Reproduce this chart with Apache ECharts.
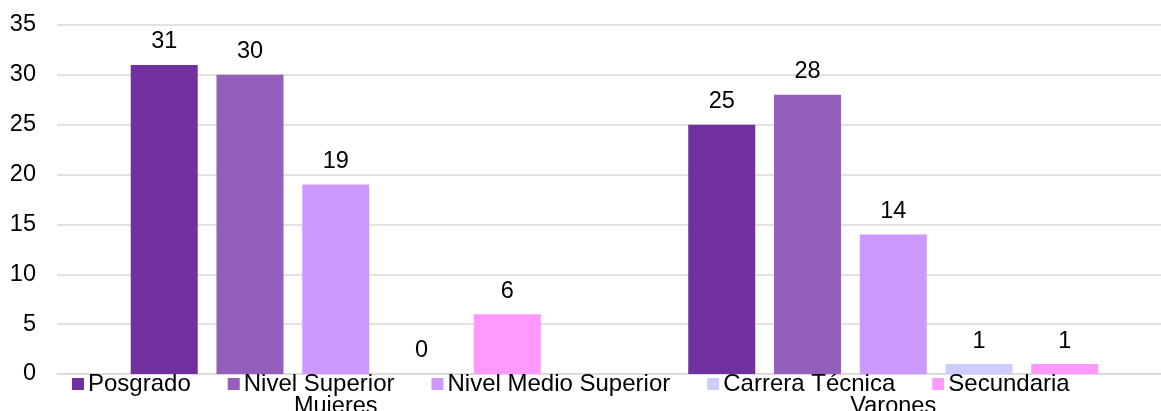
<!DOCTYPE html>
<html><head><meta charset="utf-8">
<script src="https://cdn.jsdelivr.net/npm/echarts@6/dist/echarts.min.js"></script>
<style>html,body{margin:0;padding:0;background:#fff}#c{width:1161px;height:411px}</style>
</head><body><div id="c"></div>
<script>
const categories = ['Mujeres', 'Varones'];
const seriesNames = ['Posgrado', 'Nivel Superior', 'Nivel Medio Superior', 'Carrera Técnica', 'Secundaria'];
const posgrado = [31, 25];
const nivelSuperior = [30, 28];
const nivelMedioSuperior = [19, 14];
const carreraTecnica = [0, 1];
const secundaria = [6, 1];
const yTicks = [0, 5, 10, 15, 20, 25, 30, 35];

const colors = ['#7030A0', '#935FBB', '#CC99FF', '#CCCCFF', '#FF99FF'];
const values = [posgrado, nivelSuperior, nivelMedioSuperior, carreraTecnica, secundaria];
const font = 'Liberation Sans, Arial, sans-serif';
const fs = 23.5;

const chart = echarts.init(document.getElementById('c'));
chart.setOption({
  animation: false,
  textStyle: { fontFamily: font },
  grid: { left: 57, width: 1115, top: 25, bottom: 37, containLabel: false, outerBoundsMode: 'none' },
  legend: {
    data: seriesNames,
    left: 67, top: 367,
    itemWidth: 12, itemHeight: 12, itemGap: 37,
    icon: 'rect',
    textStyle: { fontSize: 24, color: '#000', fontFamily: font, padding: [0, 0, 0, -1] }
  },
  xAxis: {
    type: 'category', data: categories,
    axisLine: { lineStyle: { color: '#D9D9D9', width: 1.5 } },
    axisTick: { show: false },
    axisLabel: { fontSize: fs, color: '#000', margin: 21, fontFamily: font }
  },
  yAxis: {
    type: 'value', min: yTicks[0], max: yTicks[yTicks.length - 1], interval: 5,
    axisLine: { show: false }, axisTick: { show: false },
    splitLine: { lineStyle: { color: '#D9D9D9', width: 1.5 } },
    axisLabel: { fontSize: fs, color: '#000', margin: 21, fontFamily: font }
  },
  series: seriesNames.map((n, i) => ({
    name: n, type: 'bar', data: values[i],
    barWidth: 67, barGap: '28%',
    itemStyle: { color: colors[i] },
    label: { show: true, position: 'top', distance: 11, fontSize: fs, color: '#000', fontFamily: font }
  }))
});
</script></body></html>
